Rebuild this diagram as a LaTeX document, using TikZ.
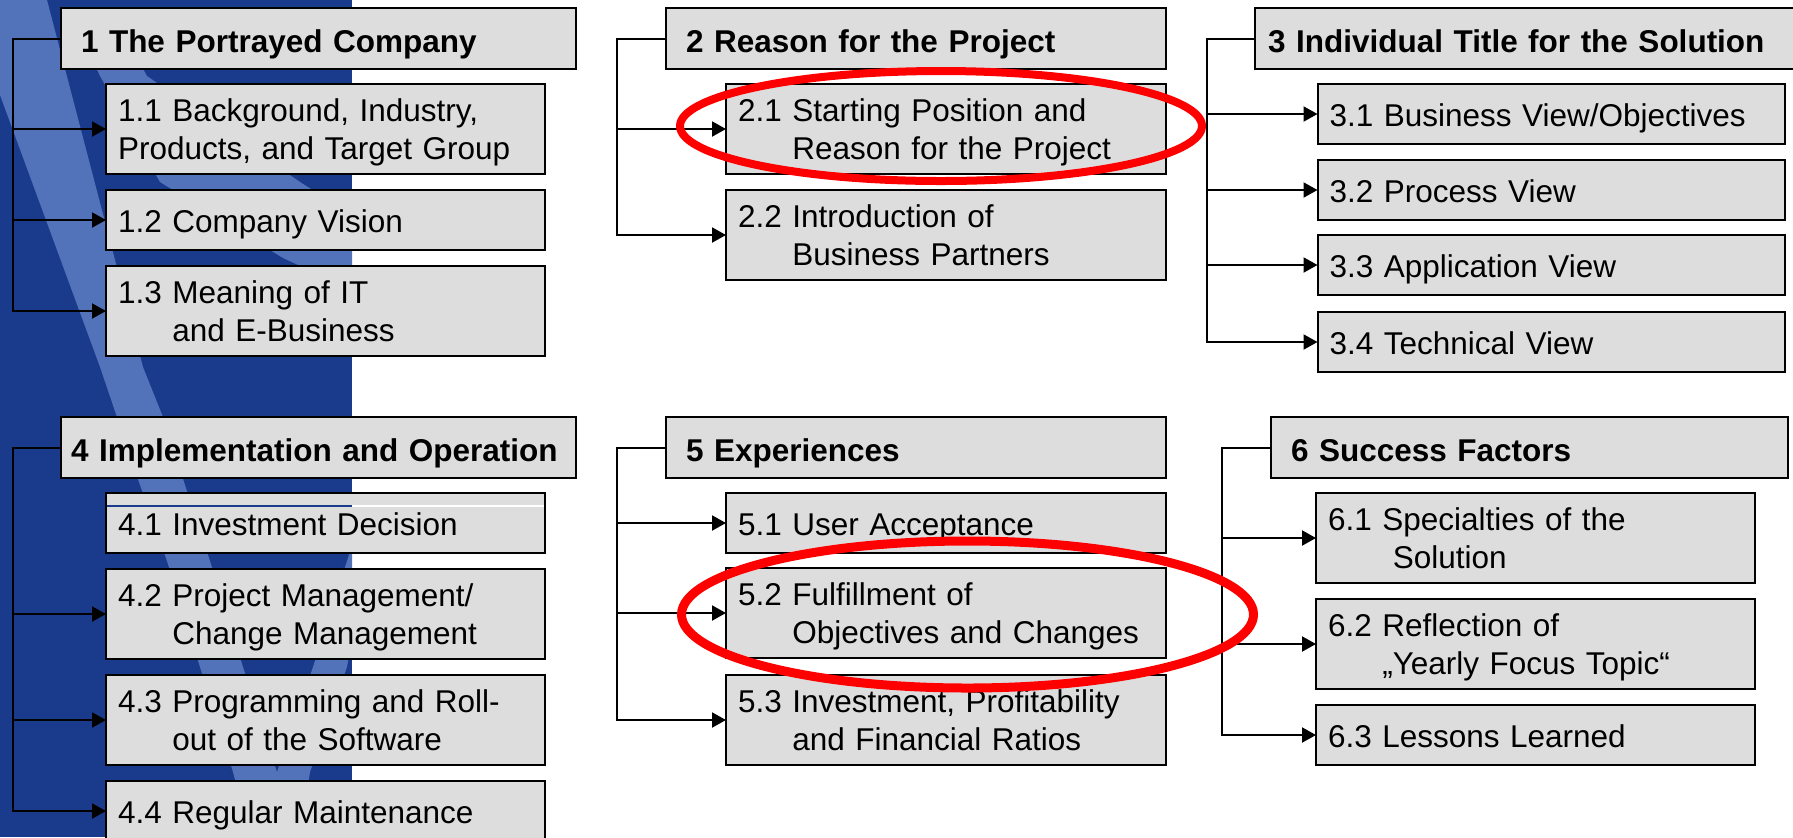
\documentclass[tikz,border=0pt]{standalone}
\usepackage{fontspec}
\setmainfont{Liberation Sans}
\usetikzlibrary{arrows.meta}

\definecolor{panelblue}{HTML}{1A3A8C}
\definecolor{swoosh}{HTML}{5273B9}
\definecolor{boxgray}{HTML}{DDDDDD}

\newcommand\boxfont{\fontsize{15.75}{18.75}\selectfont}
% blank space as wide as the section number, for the second line
\newcommand\numpad[1]{\hphantom{#1 }}

\begin{document}
\begin{tikzpicture}[x=0.5pt, y=-0.5pt,
	box/.style={draw, fill=boxgray, line width=1pt, anchor=north west, outer sep=0pt,
		inner ysep=0pt, align=left, text height=12pt},
	head/.style={box, font=\boxfont\bfseries, inner xsep=10pt, minimum height=30.5pt,
		text height=13.5pt, text depth=0pt},
	leaf/.style={box, font=\boxfont, inner xsep=6pt},
	arr/.style={line width=1pt, -{Triangle[length=7pt,width=7.5pt]}},
	ring/.style={red, line width=4pt}]
	\def\colA{106}
	\def\colB{726}
	\def\colC{1317.5}
	\def\colD{1316}

	\useasboundingbox (0,0) rectangle (1793,837);
	\clip (0,0) rectangle (1793,837);
	\fill[white] (0,0) rectangle (1793,837);

	% Blue side panel with its light swooshes
	\fill[panelblue] (0,0) rectangle (352,837);
	\fill[swoosh] (0,95) -- (100,367) -- (140,485) -- (167,561) -- (200,667) -- (233,772)
		-- (250,837) -- (290,837) -- (277,772) -- (243,667) -- (210,561) -- (185,485)
		-- (163,417) -- (143,367) -- (47,0) -- (0,0) -- cycle;
	\fill[swoosh] (347,561) -- (313,667) -- (277,772) -- (262,837) -- (300,837)
		-- (310,772) -- (347,667) -- (352,640) -- (352,545) -- cycle;
	\fill[swoosh] (70,10) -- (100,76) -- (160,182) -- (283,258) -- (352,290)
		-- (352,215) -- (300,182) -- (147,76) -- (110,10) -- cycle;

	% Chapter headings
	\node[head, text width=237.5pt] (h1) at (61,8) {1 The Portrayed Company};
	\node[head, text width=230pt] (h2) at (666,8) {2 Reason for the Project};
	\node[head, inner xsep=6.5pt, text width=259.5pt] (h3) at (1255,8) {3 Individual Title for the Solution};
	\node[head, inner xsep=5pt, text width=247.5pt] (h4) at (61,417) {\mbox{4 Implementation and Operation}};
	\node[head, text width=230pt] (h5) at (666,417) {5 Experiences};
	\node[head, text width=238.5pt] (h6) at (1271,417) {6 Success Factors};

	% Sub sections (number/top/lines/text)
	\foreach \n/\y/\l/\txt [evaluate=\l as \dep using (\l-1)*19.5] in {
		11/84/2/{1.1 Background, Industry,\\Products, and Target Group},
		12/190/1/{1.2 Company Vision},
		13/266/2/{1.3 Meaning of IT\\\numpad{1.3}and E-Business},
		41/493/1/{4.1 Investment Decision},
		42/569/2/{4.2 Project Management/\\\numpad{4.2}Change Management},
		43/675/2/{4.3 Programming and Roll-\\\numpad{4.3}out of the Software},
		44/781/1/{4.4 Regular Maintenance}}
		\node[leaf, text width=207.5pt, minimum height=15pt+15pt*\l, text depth=\dep pt]
			(s\n) at (\colA,\y) {\txt};

	\foreach \n/\y/\l/\txt [evaluate=\l as \dep using (\l-1)*19.5] in {
		21/84/2/{2.1 Starting Position and\\\numpad{2.1}Reason for the Project},
		22/190/2/{2.2 Introduction of\\\numpad{2.2}Business Partners},
		51/493/1/{5.1 User Acceptance},
		52/568/2/{5.2 Fulfillment of\\\numpad{5.2}Objectives and Changes},
		53/675/2/{5.3 Investment, Profitability\\\numpad{5.3}and Financial Ratios}}
		\node[leaf, text width=208pt, minimum height=15pt+15pt*\l, text depth=\dep pt]
			(s\n) at (\colB,\y) {\txt};

	\foreach \n/\y/\txt in {31/84/{3.1 Business View/Objectives}, 32/160/{3.2 Process View},
		33/235/{3.3 Application View}, 34/312/{3.4 Technical View}}
		\node[leaf, text width=221.75pt, minimum height=30pt, text depth=0pt]
			(s\n) at (\colC,\y) {\txt};

	\foreach \n/\y/\l/\txt [evaluate=\l as \dep using (\l-1)*19.5] in {
		61/493/2/{6.1 Specialties of the\\\numpad{6.1}\ Solution},
		62/599/2/{6.2 Reflection of\\\numpad{6.2}„Yearly Focus Topic“},
		63/705/1/{6.3 Lessons Learned}}
		\node[leaf, text width=207.5pt, minimum height=15pt+15pt*\l, text depth=\dep pt]
			(s\n) at (\colD,\y) {\txt};

	% thin stray rule across 4.1
	\draw[panelblue, line width=0.6pt] (107,506) -- (352,506);
	\draw[white, line width=0.6pt] (352,506) -- (544,506);

	% Brackets
	\coordinate (sp1) at (13,0);
	\coordinate (sp2) at (617,0);
	\coordinate (sp3) at (1207,0);
	\coordinate (sp6) at (1222,0);

	\draw[arr] (h1.west) -| (sp1 |- s13.west) -- (s13.west);
	\foreach \s in {s11,s12}
		\draw[arr] (sp1 |- \s.west) -- (\s.west);
	\draw[arr] (h4.west) -| (sp1 |- s44.west) -- (s44.west);
	\foreach \s in {s42,s43}
		\draw[arr] (sp1 |- \s.west) -- (\s.west);

	\draw[arr] (h2.west) -| (sp2 |- s22.west) -- (s22.west);
	\draw[arr] (sp2 |- s21.west) -- (s21.west);
	\draw[arr] (h5.west) -| (sp2 |- s53.west) -- (s53.west);
	\foreach \s in {s51,s52}
		\draw[arr] (sp2 |- \s.west) -- (\s.west);

	\draw[arr] (h3.west) -| (sp3 |- s34.west) -- (s34.west);
	\foreach \s in {s31,s32,s33}
		\draw[arr] (sp3 |- \s.west) -- (\s.west);
	\draw[arr] (h6.west) -| (sp6 |- s63.west) -- (s63.west);
	\foreach \s in {s61,s62}
		\draw[arr] (sp6 |- \s.west) -- (\s.west);

	% Red marks
	\draw[ring] (941,126) ellipse [x radius=130.5pt, y radius=27.5pt];
	\draw[ring, line width=4.5pt] (967.5,614.5) ellipse [x radius=143pt, y radius=36.75pt];
\end{tikzpicture}
\end{document}
